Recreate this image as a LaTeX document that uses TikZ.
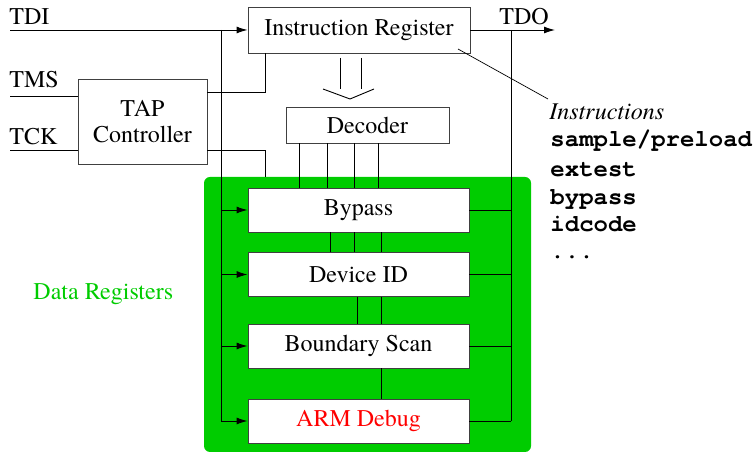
\documentclass[tikz,border=0pt]{standalone}
\usepackage{fontspec}
\setmainfont{texgyretermes}[Extension=.otf, UprightFont=*-regular, ItalicFont=*-italic, BoldFont=*-bold, BoldItalicFont=*-bolditalic]
\setmonofont{texgyrecursor}[Extension=.otf, UprightFont=*-regular, ItalicFont=*-italic, BoldFont=*-bold, BoldItalicFont=*-bolditalic]
\usetikzlibrary{arrows.meta}
\definecolor{dgreen}{RGB}{0,204,0}
\definecolor{dred}{RGB}{255,0,0}
\begin{document}
\begin{tikzpicture}[x=1pt,y=-1pt,
  font=\fontsize{24}{26}\selectfont,
  line width=0.9pt,
  box/.style={draw=black!75, fill=white, inner sep=0pt, line width=0.9pt},
  regbox/.style={box, minimum width=221pt, minimum height=44pt},
  lbl/.style={anchor=base west, inner sep=0pt},
  mono/.style={anchor=base west, inner sep=0pt, font=\fontsize{24}{26}\selectfont\ttfamily\bfseries},
  arr/.style={-{Latex[length=11pt,width=7pt]}}]
\useasboundingbox (0,0) rectangle (756,454);

% green data register area
\fill[dgreen, rounded corners=6pt] (204,177) rectangle (531,452);

% boxes
\node[box, minimum width=222pt, minimum height=46pt] (ir) at (359,30) {Instruction Register};
\node[box, minimum width=129pt, minimum height=85pt, align=center] (tap) at (142.5,121.5) {TAP\\Controller};
\node[box, minimum width=163pt, minimum height=36pt] (dec) at (367.5,125) {Decoder};
\node[regbox] (bypass) at (358.5,210) {Bypass};
\node[regbox] (devid) at (358.5,274.5) {Device ID};
\node[regbox] (bscan) at (358.5,346) {Boundary Scan};
\node[regbox, text=dred] (arm) at (358.5,421) {ARM Debug};

% labels
\node[lbl] (tdilbl) at (9,25) {TDI};
\node[lbl] (tmslbl) at (9,88) {TMS};
\node[lbl] (tcklbl) at (9,145) {TCK};
\node[lbl] (tdolbl) at (499,25) {TDO};
\node[lbl, text=dgreen] (dreg) at (33,300) {Data Registers};
\node[lbl, font=\fontsize{24}{26}\selectfont\itshape, inner sep=1pt] (instr) at (548,120) {Instructions};
\node[mono] (i1) at (550,147) {sample/preload};
\node[mono] (i2) at (550,177) {extest};
\node[mono] (i3) at (550,205) {bypass};
\node[mono] (i4) at (550,232) {idcode};
\node[mono] (i5) at (550,259) {...};

% coordinates
\coordinate (tdi) at (10,30);
\coordinate (tms) at (10,96);
\coordinate (tck) at (10,150);
\coordinate (tdo) at (555,30);
\coordinate (lj) at (221,30);
\coordinate (rj) at (511,30);
\coordinate (tapir) at (207,92);
\coordinate (tapdr) at (207,150);
\coordinate (cx) at (265,0);
\coordinate (gtop) at (265,177);
\coordinate (irpt) at (458,49);
\coordinate (instrpt) at (548,99);

% scan path
\draw[arr] (tdi) -- (ir.west);
\draw[arr] (ir.east) -- (tdo);
\draw (lj) -- (lj |- arm.west);
\draw (rj) -- (rj |- arm.east);
\foreach \n in {bypass,devid,bscan,arm}{
  \draw[arr] (lj |- \n.west) -- (\n.west);
  \draw (\n.east) -- (rj |- \n.east);
}

% TAP controller
\draw (tms) -- (tms -| tap.west);
\draw (tck) -- (tck -| tap.west);
\draw (tapir) -| (cx |- ir.south);
\draw (tapdr) -| (gtop);

% IR -> decoder wide arrow
\draw (340,58) -- (340,89);
\draw (361,58) -- (361,89);
\draw (323,89) -- (350,99) -- (374,89);

% decoder outputs
\foreach \x in {299,327,354,378}{
  \draw (dec.south -| \x,0) -- (bypass.north -| \x,0);
}
\foreach \x in {330,354,381}{
  \draw (bypass.south -| \x,0) -- (devid.north -| \x,0);
}
\foreach \x in {357,381}{
  \draw (devid.south -| \x,0) -- (bscan.north -| \x,0);
}
\draw (bscan.south -| 381,0) -- (arm.north -| 381,0);

% instruction annotation
\draw[line width=0.7pt] (irpt) -- (instrpt);
\end{tikzpicture}
\end{document}
